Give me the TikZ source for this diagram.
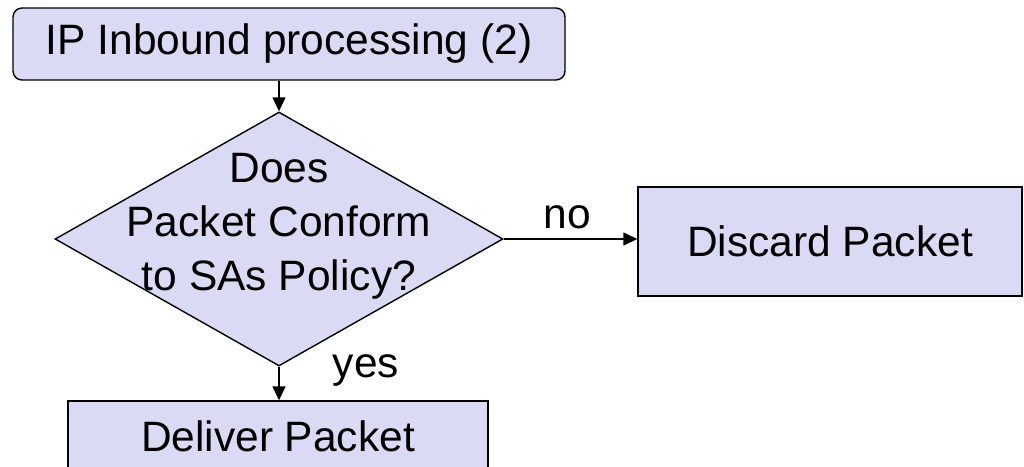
\documentclass[tikz,border=0pt]{standalone}
\usepackage{fontspec}
\setmainfont{Liberation Sans}
\usetikzlibrary{shapes.geometric,arrows.meta}
\definecolor{boxfill}{RGB}{218,218,244}
\tikzset{
  box/.style={draw=black, fill=boxfill, line width=1.4pt, inner sep=0pt, font=\fontsize{42.5}{54}\selectfont},
  lbl/.style={inner sep=0pt, font=\fontsize{42.5}{54}\selectfont},
  arr/.style={line width=1.4pt, -{Triangle[length=14pt,width=13pt]}}
}
\begin{document}
\begin{tikzpicture}[x=1pt,y=-1pt]
\useasboundingbox (0,0) rectangle (1024,466);
\clip (0,0) rectangle (1024,466);
\node[box, rounded corners=9pt, minimum width=552pt, minimum height=72pt] (top) at (289,44) {IP Inbound processing (2)};
\node[box, diamond, minimum width=448pt, minimum height=254pt, aspect=1.764] (dec) at (279,239) {};
\node[lbl, align=center] (dectext) at (279,226) {Does\\Packet Conform\\to SAs Policy?};
\node[box, minimum width=384pt, minimum height=109pt] (discard) at (830,241.5) {Discard Packet};
\node[box, minimum width=420pt, minimum height=70pt] (deliver) at (278,436) {Deliver Packet};
\draw[arr] (top.south -| dec.north) -- (dec.north);
\draw[arr] (dec.east) -- (discard.west |- dec.east);
\draw[arr] (dec.south) -- (deliver.north -| dec.south);
\node[lbl] (no) at (567,217) {no};
\node[lbl] (yes) at (366,370) {yes};
\end{tikzpicture}
\end{document}
